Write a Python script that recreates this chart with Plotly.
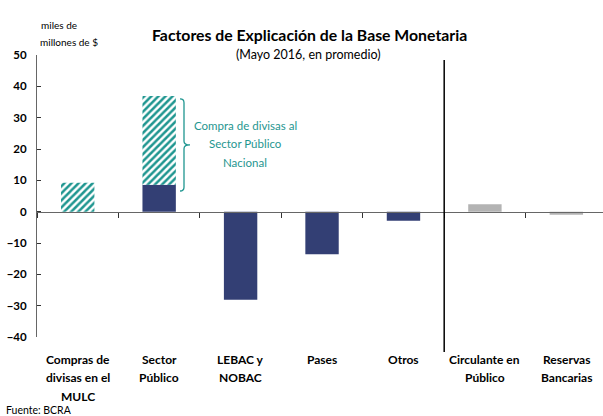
import plotly.graph_objects as go

# categorias y valores (miles de millones de $)
categorias = ['Compras de divisas en el MULC', 'Sector Público', 'LEBAC y NOBAC',
              'Pases', 'Otros', 'Circulante en Público', 'Reservas Bancarias']
etiquetas = [['Compras de', 'divisas en el', 'MULC'], ['Sector', 'Público'],
             ['LEBAC y', 'NOBAC'], ['Pases'], ['Otros'],
             ['Circulante en', 'Público'], ['Reservas', 'Bancarias']]
factores = [None, 8.6, -28.1, -13.6, -2.9, None, None]
compra_divisas = [9.2, 28.3, None, None, None, None, None]
usos = [None, None, None, None, None, 2.4, -1.0]
nota = ['Compra de divisas al', 'Sector Público', 'Nacional']

NAVY = '#333f74'
TEAL = '#1f9690'
GREY = '#b3b3b3'
FONT = 'Lato'

fig = go.Figure()
fig.add_trace(go.Bar(x=categorias, y=factores, marker=dict(color=NAVY, line_width=0)))
fig.add_trace(go.Bar(x=categorias, y=compra_divisas,
                     marker=dict(color='white', line_width=0,
                                 pattern=dict(shape='/', fgcolor=TEAL, bgcolor='white',
                                              size=5, solidity=0.5, fillmode='replace'))))
fig.add_trace(go.Bar(x=categorias, y=usos, marker=dict(color=GREY, line_width=0)))

xrange = [-0.5, 6.45]
zero_pos = 40 / 90

fig.update_layout(
    width=603, height=416,
    margin=dict(l=37, r=0, t=55, b=79, autoexpand=False),
    paper_bgcolor='white', plot_bgcolor='white',
    barmode='relative', bargap=0.59, showlegend=False,
    font=dict(family=FONT, color='black'),
    xaxis=dict(type='category', range=xrange, anchor='free', position=zero_pos,
               showline=True, linecolor='#666666', linewidth=1, automargin=False,
               ticks='outside', tickson='boundaries', ticklen=5, tickcolor='#333333',
               showticklabels=False, showgrid=False, zeroline=False),
    xaxis2=dict(type='linear', range=xrange, overlaying='x', anchor='free', position=zero_pos,
                tickvals=[0.5, 1.5, 2.5, 3.5, 4.5, 5.5], ticks='inside', ticklen=5,
                tickcolor='#333333', showticklabels=False, showgrid=False,
                zeroline=False, showline=False, automargin=False),
    yaxis=dict(range=[-40, 50], dtick=10, showline=True, linecolor='#666666', linewidth=1,
               ticks='inside', ticklen=4, tickcolor='#333333', showgrid=False, zeroline=False,
               ticklabelstandoff=7, automargin=False,
               tickfont=dict(family=FONT, size=11.5, color='black', weight='bold')),
)

# etiquetas de categoria, linea por linea
for cat, lineas in zip(categorias, etiquetas):
    for i, t in enumerate(lineas):
        fig.add_annotation(x=cat, y=0, yref='paper', yshift=-(22 + 18.5 * i),
                           text='<b>' + t + '</b>', showarrow=False, yanchor='middle',
                           font=dict(size=12, color='black'))

# titulo y textos
fig.add_annotation(x=(309 - 37) / 566, y=1.113, xref='paper', yref='paper',
                   text='<b>Factores de Explicación de la Base Monetaria</b>',
                   showarrow=False, font=dict(size=15.8))
fig.add_annotation(x=(308 - 37) / 566, y=1.035, xref='paper', yref='paper',
                   text='(Mayo 2016, en promedio)', showarrow=False, font=dict(size=12.5))
fig.add_annotation(x=0.004, y=1.135, xref='paper', yref='paper', text='miles de',
                   showarrow=False, font=dict(size=10))
fig.add_annotation(x=0.002, y=1.074, xref='paper', yref='paper', text='millones de $',
                   showarrow=False, font=dict(size=10))
fig.add_annotation(x=-0.058, y=-0.259, xref='paper', yref='paper', text='Fuente: BCRA',
                   showarrow=False, xanchor='left', yanchor='middle', font=dict(size=10.5))

for i, t in enumerate(nota):
    fig.add_annotation(x=(245 - 37) / 566, y=27.4 - 5.8 * i, xref='paper', yref='y',
                       text=t, showarrow=False, font=dict(size=11.5, color=TEAL))

# llave
yt = factores[1] + compra_divisas[1] - 0.9
yb = factores[1] - 2.0
ym = (yt + yb) / 2
x0, xm, x1 = (180 - 37) / 566, (184 - 37) / 566, (190 - 37) / 566
path = (f'M {x0},{yt} Q {xm},{yt} {xm},{yt - 1.2} L {xm},{ym + 1.2} '
        f'Q {xm},{ym} {x1},{ym} Q {xm},{ym} {xm},{ym - 1.2} '
        f'L {xm},{yb + 1.2} Q {xm},{yb} {x0},{yb}')
fig.add_shape(type='path', path=path, xref='paper', yref='y',
              line=dict(color=TEAL, width=1.3))

# linea divisoria
xdiv = 5 / (xrange[1] - xrange[0])
fig.add_shape(type='line', xref='paper', yref='paper', x0=xdiv, x1=xdiv, y0=-0.053, y1=0.982,
              line=dict(color='black', width=1.5))

# sin margen del body, para que la figura quede en 0,0
fig.write_html('out.html', config={'displayModeBar': False},
               post_script="document.body.style.margin='0';")
